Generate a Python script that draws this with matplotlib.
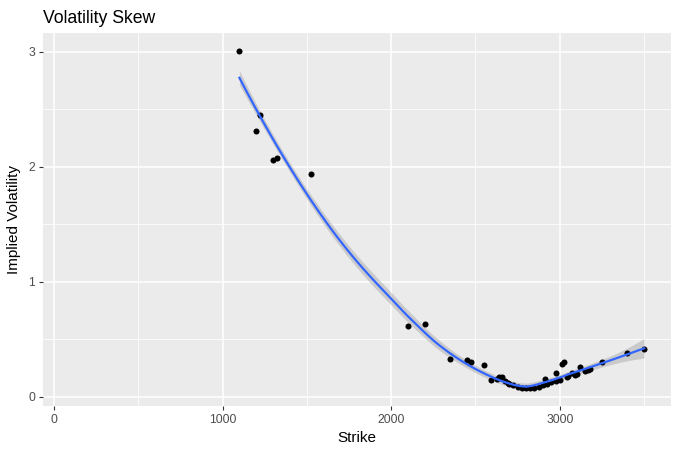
import numpy as np
import matplotlib
matplotlib.use("Agg")
import matplotlib.pyplot as plt

# ========================================
# Data
# ========================================

strike = np.array([
    1100, 1200, 1225, 1300, 1325, 1525,
    2100, 2200, 2350, 2450, 2475, 2550,
    2590, 2625, 2640, 2660, 2675, 2690, 2700, 2725, 2750, 2775,
    2800, 2825, 2850, 2875, 2900, 2910, 2925, 2950, 2975, 2980,
    3000, 3015, 3025, 3040, 3050, 3070, 3090, 3100, 3120, 3150,
    3170, 3180, 3250, 3400, 3500,
])
implied_vol = np.array([
    3.01, 2.31, 2.45, 2.06, 2.08, 1.94,
    0.62, 0.63, 0.33, 0.32, 0.30, 0.28,
    0.15, 0.16, 0.175, 0.17, 0.14, 0.12, 0.11, 0.10, 0.09, 0.08,
    0.075, 0.075, 0.08, 0.09, 0.10, 0.155, 0.11, 0.13, 0.14, 0.205,
    0.15, 0.285, 0.30, 0.17, 0.18, 0.21, 0.19, 0.20, 0.26, 0.23,
    0.235, 0.24, 0.30, 0.38, 0.42,
])

X_TICKS = [0, 1000, 2000, 3000]
Y_TICKS = [0, 1, 2, 3]

# ========================================
# loess smooth (like ggplot geom_smooth default)
# ========================================

def loess_fit(x, y, xs, span=0.75):
    n = len(x)
    q = int(np.floor(n * span))
    xc = x / 1000.0
    L = np.zeros((len(xs), n))
    for k, x0 in enumerate(xs / 1000.0):
        d = np.abs(xc - x0)
        h = np.sort(d)[q - 1]
        u = np.clip(d / h, 0, 1)
        w = (1 - u ** 3) ** 3
        A = np.column_stack([np.ones(n), xc - x0, (xc - x0) ** 2])
        AtW = A.T * w
        L[k] = np.linalg.solve(AtW @ A, AtW)[0]
    return L


L_data = loess_fit(strike, implied_vol, strike.astype(float))
resid = implied_vol - L_data @ implied_vol
M = np.eye(len(strike)) - L_data
one_delta = np.trace(M.T @ M)
sigma = np.sqrt(np.sum(resid ** 2) / one_delta)

xs = np.linspace(strike.min(), strike.max(), 80)
L_grid = loess_fit(strike, implied_vol, xs)
fit = L_grid @ implied_vol
se = sigma * np.sqrt(np.sum(L_grid ** 2, axis=1))
band = 1.35  # band half-width factor (narrower band as in reference)

# ========================================
# Plot
# ========================================

plt.rcParams['font.family'] = ['Liberation Sans', 'DejaVu Sans']

fig = plt.figure(figsize=(6.79, 4.5), dpi=100)
ax = fig.add_axes([0.0633, 0.0984, 0.9245, 0.8283])
ax.set_facecolor('#EBEBEB')

ax.fill_between(xs, fit - band * se, fit + band * se,
                color='#999999', alpha=0.4, linewidth=0, zorder=2)
ax.scatter(strike, implied_vol, s=19, color='black', linewidths=0, zorder=3)
ax.plot(xs, fit, color='#3366FF', linewidth=1.6, zorder=4)

ax.set_xlim(-65, 3658)
ax.set_ylim(-0.076, 3.163)
ax.set_xticks(X_TICKS)
ax.set_yticks(Y_TICKS)
ax.set_xticks([500, 1500, 2500, 3500], minor=True)
ax.set_yticks([0.5, 1.5, 2.5], minor=True)

ax.grid(which='major', color='white', linewidth=1.1, zorder=0)
ax.grid(which='minor', color='white', linewidth=0.55, zorder=0)
ax.set_axisbelow(True)
for s in ax.spines.values():
    s.set_visible(False)

ax.tick_params(which='major', length=2.9, width=0.8, color='#333333',
               labelcolor='#4D4D4D', labelsize=8.7, pad=2.9)
ax.tick_params(which='minor', length=0)

ax.set_xlabel("Strike", fontsize=11, color='black', labelpad=4)
ax.set_ylabel("Implied Volatility", fontsize=11, color='black', labelpad=5)
ax.set_title("Volatility Skew", fontsize=12.7, color='black', loc='left', pad=7)

fig.savefig("out.png", dpi=100)
